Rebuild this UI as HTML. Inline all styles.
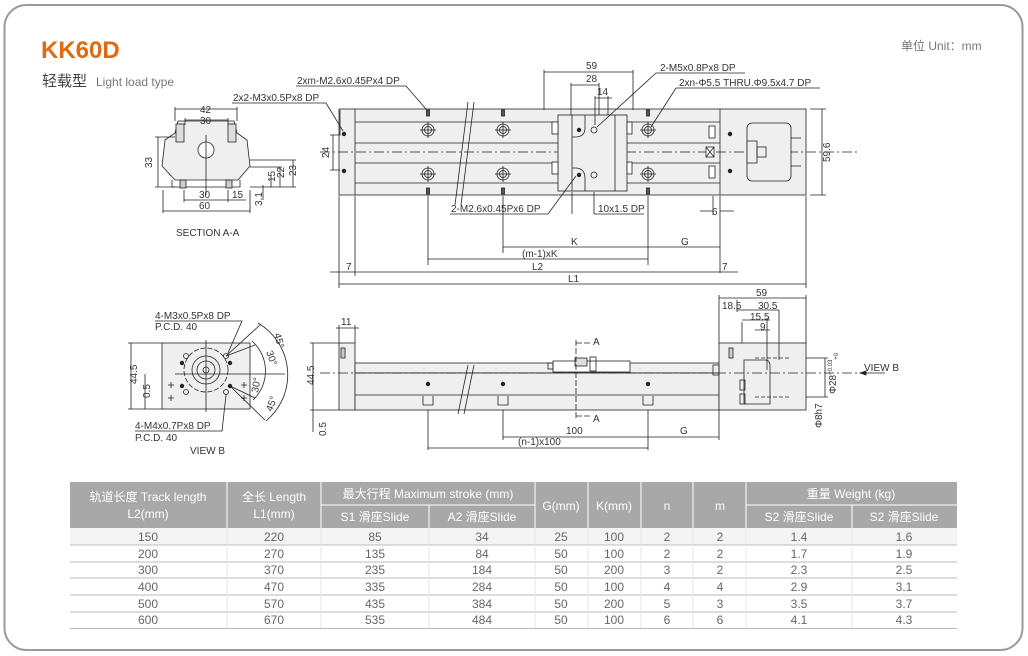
<!DOCTYPE html>
<html><head><meta charset="utf-8"><style>
html,body{margin:0;padding:0;background:#fff;}
svg{display:block;}
text{font-family:"Liberation Sans Narrow","Liberation Sans","Noto Sans CJK SC",sans-serif;}
</style></head><body>
<svg width="1028" height="656" viewBox="0 0 1028 656" xmlns="http://www.w3.org/2000/svg">
<rect x="4.5" y="5" width="1018" height="645" rx="22" fill="#fff" stroke="#9a9a9a" stroke-width="2"/>
<text x="41" y="58" font-family="Liberation Sans" font-weight="bold" font-size="24" fill="#e06a10">KK60D</text>
<text x="42" y="86" font-size="15" fill="#444" font-family="Liberation Sans,Noto Sans CJK SC,sans-serif">轻载型</text>
<text x="96" y="86" font-size="12" fill="#777" font-family="Liberation Sans">Light load type</text>
<text x="901" y="50" font-size="12" fill="#777" font-family="Liberation Sans,Noto Sans CJK SC,sans-serif">单位 Unit：mm</text>

<g stroke="#222" stroke-width="0.8" fill="none" font-size="10">
<rect x="339" y="109" width="467" height="86" fill="#efefef"/>
<line x1="355" y1="109" x2="355" y2="195"/>
<line x1="720" y1="109" x2="720" y2="195"/>
<line x1="355" y1="122" x2="720" y2="122"/>
<line x1="355" y1="143" x2="720" y2="143"/>
<line x1="355" y1="163" x2="720" y2="163"/>
<line x1="355" y1="183" x2="720" y2="183"/>
<line x1="320" y1="152" x2="860" y2="152" stroke-dasharray="10,3,2,3"/>
<rect x="558" y="115" width="69" height="76" fill="#efefef"/>
<rect x="552" y="122" width="6" height="12" fill="#fff"/>
<rect x="552" y="162" width="6" height="12" fill="#fff"/>
<rect x="627" y="122" width="5" height="12" fill="#fff"/>
<rect x="627" y="162" width="5" height="12" fill="#fff"/>
<line x1="572" y1="115" x2="572" y2="191"/>
<line x1="615" y1="115" x2="615" y2="191"/>
<path d="M585 115 V128 Q585 137 575 137 H572"/>
<path d="M585 191 V178 Q585 168 575 168 H572"/>
<circle cx="594" cy="130" r="3"/><circle cx="594" cy="175" r="3"/>
<circle cx="579" cy="130" r="1.8" fill="#222"/><circle cx="579" cy="175" r="1.8" fill="#222"/>
<g>
<circle cx="428" cy="130" r="6"/><circle cx="428" cy="130" r="3.5"/><line x1="420" y1="130" x2="436" y2="130"/><line x1="428" y1="122" x2="428" y2="138"/>
<circle cx="503" cy="130" r="6"/><circle cx="503" cy="130" r="3.5"/><line x1="495" y1="130" x2="511" y2="130"/><line x1="503" y1="122" x2="503" y2="138"/>
<circle cx="648" cy="130" r="6"/><circle cx="648" cy="130" r="3.5"/><line x1="640" y1="130" x2="656" y2="130"/><line x1="648" y1="122" x2="648" y2="138"/>
<circle cx="428" cy="174" r="6"/><circle cx="428" cy="174" r="3.5"/><line x1="420" y1="174" x2="436" y2="174"/><line x1="428" y1="166" x2="428" y2="182"/>
<circle cx="503" cy="174" r="6"/><circle cx="503" cy="174" r="3.5"/><line x1="495" y1="174" x2="511" y2="174"/><line x1="503" y1="166" x2="503" y2="182"/>
<circle cx="648" cy="174" r="6"/><circle cx="648" cy="174" r="3.5"/><line x1="640" y1="174" x2="656" y2="174"/><line x1="648" y1="166" x2="648" y2="182"/>
</g>
<rect x="426.5" y="110" width="3" height="6" fill="#555"/><rect x="501.5" y="110" width="3" height="6" fill="#555"/><rect x="646.5" y="110" width="3" height="6" fill="#555"/>
<rect x="426.5" y="188" width="3" height="6" fill="#555"/><rect x="501.5" y="188" width="3" height="6" fill="#555"/><rect x="646.5" y="188" width="3" height="6" fill="#555"/>
<circle cx="344" cy="134" r="1.8" fill="#222"/><circle cx="344" cy="171" r="1.8" fill="#222"/>
<circle cx="730" cy="134" r="1.8" fill="#222"/><circle cx="730" cy="171" r="1.8" fill="#222"/>
<rect x="709" y="126" width="6" height="12" fill="#fff"/><rect x="709" y="166" width="6" height="12" fill="#fff"/>
<rect x="706" y="147" width="8" height="10" fill="#fff"/><path d="M706 147 L714 157 M714 147 L706 157"/>
<rect x="747" y="123" width="44" height="58" rx="5" fill="#efefef"/>
<rect x="747" y="141" width="10" height="22" fill="#efefef"/><rect x="757" y="147" width="9" height="10"/>
<line x1="791" y1="138" x2="801" y2="138"/><line x1="791" y1="166" x2="801" y2="166"/>
<path d="M468 102 L455 205 M474 102 L461 205"/>
<path d="M544 110 V70 M633 110 V70 M544 72 H633"/>
<path d="M571 115 V83 M599 115 V83 M571 85 H599"/>
<path d="M595 125 V96 M608 115 V96 M595 98 H612"/>
<path d="M340 110 V135 L330 135 M340 170 L330 170 M333 135 V170"/>
<path d="M810 109 H826 M810 195 H826 M822 109 V195"/>
<path d="M296 86 H406 L426 109"/>
<path d="M232 103 H326 L343 131"/>
<path d="M656 73 H745 M656 73 L597 127"/>
<path d="M676 88 H820 M676 88 L651 127"/>
<path d="M450 214 H548 L576 176"/>
<path d="M594 214 H644"/>
<path d="M428 196 V265 M503 196 V253 M648 196 V265 M720 196 V273 M806 196 V288 M339 196 V288 M355 196 V276 M572 192 V214 M594 192 V214 M713 196 V215"/>
<path d="M503 247 H648 M648 247 H720 M428 259 H648 M355 272 H720 M339 284 H806"/>
<path d="M330 272 H339 M339 272 H355 M720 272 H738 M700 211 H713 M720 211 H734"/>
</g>
<g font-size="10" fill="#333">
<text x="586" y="69">59</text><text x="586" y="82">28</text><text x="597" y="95">14</text>
<text x="297" y="84">2xm-M2.6x0.45Px4 DP</text>
<text x="233" y="101">2x2-M3x0.5Px8 DP</text>
<text x="660" y="71">2-M5x0.8Px8 DP</text>
<text x="679" y="86">2xn-Φ5.5 THRU.Φ9.5x4.7 DP</text>
<text x="451" y="212">2-M2.6x0.45Px6 DP</text>
<text x="598" y="212">10x1.5 DP</text>
<text x="712" y="215">6</text>
<text x="571" y="245">K</text><text x="681" y="245">G</text>
<text x="522" y="257">(m-1)xK</text><text x="532" y="270">L2</text>
<text x="346" y="270">7</text><text x="722" y="270">7</text><text x="568" y="282">L1</text>
<text transform="translate(329,158) rotate(-90)">24</text>
<text transform="translate(830,162) rotate(-90)">59.6</text>
</g>

<g stroke="#222" stroke-width="0.8" fill="none">
<path d="M165 140 L175 133 L178 121 L234 121 L237 133 L247 140 L250 166 L238 180 H175 L162 166 Z" fill="#efefef"/>
<path d="M172 180 V187 H240 V180"/>
<rect x="176" y="124" width="8" height="18" fill="#ddd"/><rect x="228" y="124" width="8" height="18" fill="#ddd"/>
<circle cx="206" cy="150" r="8" fill="#fff"/>
<line x1="206" y1="135" x2="206" y2="195"/>
<rect x="180" y="180" width="6" height="8" fill="#ccc"/><rect x="226" y="180" width="6" height="8" fill="#ccc"/>
<path d="M175 121 V107 M237 121 V107 M175 109 H237"/>
<path d="M185 125 V118 M228 125 V118 M185 120 H228"/>
<path d="M155 137 H175 M155 187 H175 M158 137 V187"/>
<path d="M184 190 V202 M228 190 V202 M184 200 H228 M228 200 H246"/>
<path d="M163 190 V213 M250 190 V213 M163 211 H250"/>
<path d="M250 160 H296 M250 187 H296 M250 167 H282 M293 160 V187 M280 167 V187 M271 175 V187 M263 185 V200"/>
</g>
<g font-size="10" fill="#333">
<text x="200" y="113">42</text><text x="200" y="124">30</text>
<text transform="translate(152,168) rotate(-90)">33</text>
<text x="199" y="198">30</text><text x="232" y="198">15</text><text x="199" y="209">60</text>
<text transform="translate(262,206) rotate(-90)">3.1</text>
<text transform="translate(275,182) rotate(-90)">15</text>
<text transform="translate(284,178) rotate(-90)">22</text>
<text transform="translate(296,176) rotate(-90)">23</text>
<text x="176" y="236">SECTION A-A</text>
</g>

<g stroke="#222" stroke-width="0.8" fill="none">
<rect x="162" y="343" width="88" height="66" fill="#efefef"/>
<circle cx="206" cy="370" r="22" stroke-dasharray="5,2"/>
<circle cx="206" cy="370" r="14"/><circle cx="206" cy="370" r="9"/><circle cx="206" cy="370" r="3"/>
<line x1="175" y1="374" x2="285" y2="374"/><line x1="206" y1="340" x2="206" y2="412"/>
<circle cx="186" cy="356" r="2.5"/><circle cx="226" cy="356" r="2.5"/><circle cx="186" cy="392" r="2.5"/><circle cx="226" cy="392" r="2.5"/>
<circle cx="182" cy="363" r="1.8" fill="#222"/><circle cx="230" cy="363" r="1.8" fill="#222"/><circle cx="182" cy="386" r="1.8" fill="#222"/><circle cx="230" cy="386" r="1.8" fill="#222"/>
<path d="M168 385 h6 M171 382 v6 M241 385 h6 M244 382 v6 M168 398 h6 M171 395 v6 M241 398 h6 M244 395 v6"/>
<path d="M226 356 L260 325 M230 386 L265 420"/>
<path d="M258 323 A60 60 0 0 1 266 421"/>
<path d="M226 356 L255 345 M230 386 L255 398"/>
<path d="M252 341 A40 40 0 0 1 253 400"/>
<path d="M155 321 H242 L228 353"/>
<path d="M135 431 H222 L226 395"/>
<path d="M128 343 H162 M128 409 H162 M131 343 V409 M145 374 V409"/>
</g>
<g font-size="10" fill="#333">
<text x="155" y="319">4-M3x0.5Px8 DP</text><text x="155" y="330">P.C.D. 40</text>
<text x="135" y="429">4-M4x0.7Px8 DP</text><text x="135" y="441">P.C.D. 40</text>
<text x="190" y="454">VIEW B</text>
<text transform="translate(137,384) rotate(-90)">44.5</text>
<text transform="translate(150,398) rotate(-90)">0.5</text>
<text transform="translate(274,334) rotate(75)">45°</text>
<text transform="translate(266,352) rotate(70)">30°</text>
<text transform="translate(258,393) rotate(-80)">30°</text>
<text transform="translate(272,412) rotate(-70)">45°</text>
</g>

<g stroke="#222" stroke-width="0.8" fill="none">
<rect x="339" y="343" width="16" height="67" fill="#efefef"/>
<rect x="355" y="363" width="364" height="10" fill="#efefef"/>
<rect x="355" y="373" width="364" height="37" fill="#efefef"/>
<line x1="355" y1="395" x2="719" y2="395"/>
<rect x="719" y="343" width="87" height="67" fill="#efefef"/>
<rect x="553" y="361" width="77" height="11" fill="#fff"/>
<rect x="548" y="363" width="5" height="6"/>
<rect x="575" y="358" width="12" height="8" fill="#ddd"/><rect x="590" y="357" width="6" height="14"/>
<path d="M744 360 H765 Q770 360 770 366 V404 H744 Z"/>
<path d="M755 358 H790 M755 397 H790" stroke-dasharray="4,2"/>
<rect x="740" y="380" width="5" height="10"/><rect x="740" y="394" width="5" height="10"/>
<rect x="713" y="365" width="6" height="10"/>
<rect x="341" y="348" width="4" height="10" fill="#ccc"/><rect x="729" y="348" width="4" height="10" fill="#ccc"/>
<path d="M320 373 H860" stroke-dasharray="10,3,2,3"/>
<path d="M423 396 V405 H433 V396 M498 396 V405 H508 V396 M643 396 V405 H653 V396"/>
<circle cx="428" cy="384" r="1.8" fill="#222"/><circle cx="503" cy="384" r="1.8" fill="#222"/><circle cx="648" cy="384" r="1.8" fill="#222"/>
<path d="M468 365 L458 414 M474 365 L464 414"/>
<path d="M576 340 V420 M576 343 H592 M576 416 H592" stroke-dasharray="6,2"/>
<path d="M339 343 V325 M355 343 V325 M336 328 H359"/>
<path d="M310 343 H339 M313 343 V410 M310 410 H339 M313 410 V432"/>
<path d="M719 343 V295 M806 343 V295 M719 298 H806 M737 312 V300 M737 310 H779 M742 322 V343 M742 320 H770 M755 330 H770 M767 318 V370 M779 310 V360"/>
<path d="M428 410 V450 M503 410 V440 M648 410 V450 M719 410 V440 M503 437 H648 M648 437 H719 M428 448 H648"/>
<path d="M806 358 H828 M806 397 H828 M825 358 V397"/>
<path d="M885 373 H860"/>
<path d="M860 373 l6 -2 v4 z" fill="#222"/>
</g>
<g font-size="10" fill="#333">
<text x="341" y="325">11</text>
<text transform="translate(314,385) rotate(-90)">44.5</text>
<text transform="translate(326,436) rotate(-90)">0.5</text>
<text x="593" y="345">A</text><text x="593" y="422">A</text>
<text x="756" y="296">59</text><text x="722" y="309">18.5</text><text x="758" y="309">30.5</text>
<text x="750" y="320">15.5</text><text x="760" y="330">9</text>
<text x="864" y="371">VIEW B</text>
<text transform="translate(836,394) rotate(-90)">Φ28<tspan font-size="6" dy="-4">+0.03</tspan><tspan font-size="6" dy="6">+0</tspan></text>
<text transform="translate(822,428) rotate(-90)">Φ8h7</text>
<text x="566" y="434">100</text><text x="680" y="434">G</text><text x="518" y="445">(n-1)x100</text>
</g>

<g font-size="12">
<rect x="70" y="482" width="887" height="46" fill="#a8a8a8"/>
<g stroke="#fff" stroke-width="1">
<line x1="227" y1="482" x2="227" y2="528"/><line x1="321" y1="482" x2="321" y2="528"/>
<line x1="535" y1="482" x2="535" y2="528"/><line x1="588" y1="482" x2="588" y2="528"/>
<line x1="641" y1="482" x2="641" y2="528"/><line x1="693" y1="482" x2="693" y2="528"/>
<line x1="746" y1="482" x2="746" y2="528"/>
<line x1="429" y1="505" x2="429" y2="528"/><line x1="852" y1="505" x2="852" y2="528"/>
<line x1="321" y1="505" x2="535" y2="505"/><line x1="746" y1="505" x2="957" y2="505"/>
</g>
<g fill="#fff" text-anchor="middle">
<text x="148" y="501">轨道长度 Track length</text><text x="148" y="518">L2(mm)</text>
<text x="274" y="501">全长 Length</text><text x="274" y="518">L1(mm)</text>
<text x="428" y="498">最大行程 Maximum stroke (mm)</text>
<text x="375" y="521">S1 滑座Slide</text><text x="482" y="521">A2 滑座Slide</text>
<text x="561" y="510">G(mm)</text><text x="614" y="510">K(mm)</text>
<text x="667" y="510">n</text><text x="720" y="510">m</text>
<text x="851" y="498">重量 Weight (kg)</text>
<text x="799" y="521">S2 滑座Slide</text><text x="904" y="521">S2 滑座Slide</text>
</g>
<rect x="70" y="528" width="887" height="17" fill="#f4f4f4"/>
<g stroke="#bbb" stroke-width="1">
<line x1="70" y1="545" x2="957" y2="545"/><line x1="70" y1="562" x2="957" y2="562"/>
<line x1="70" y1="578" x2="957" y2="578"/><line x1="70" y1="595" x2="957" y2="595"/>
<line x1="70" y1="612" x2="957" y2="612"/><line x1="70" y1="628.5" x2="957" y2="628.5"/>
</g>
<g stroke="#e6e6e6" stroke-width="1">
<line x1="227" y1="528" x2="227" y2="628"/><line x1="321" y1="528" x2="321" y2="628"/>
<line x1="429" y1="528" x2="429" y2="628"/><line x1="535" y1="528" x2="535" y2="628"/>
<line x1="588" y1="528" x2="588" y2="628"/><line x1="641" y1="528" x2="641" y2="628"/>
<line x1="693" y1="528" x2="693" y2="628"/><line x1="746" y1="528" x2="746" y2="628"/>
<line x1="852" y1="528" x2="852" y2="628"/>
</g>
<g fill="#666" text-anchor="middle">
<text x="148" y="541">150</text><text x="274" y="541">220</text><text x="375" y="541">85</text><text x="482" y="541">34</text><text x="561" y="541">25</text><text x="614" y="541">100</text><text x="667" y="541">2</text><text x="720" y="541">2</text><text x="799" y="541">1.4</text><text x="904" y="541">1.6</text>
<text x="148" y="558">200</text><text x="274" y="558">270</text><text x="375" y="558">135</text><text x="482" y="558">84</text><text x="561" y="558">50</text><text x="614" y="558">100</text><text x="667" y="558">2</text><text x="720" y="558">2</text><text x="799" y="558">1.7</text><text x="904" y="558">1.9</text>
<text x="148" y="574">300</text><text x="274" y="574">370</text><text x="375" y="574">235</text><text x="482" y="574">184</text><text x="561" y="574">50</text><text x="614" y="574">200</text><text x="667" y="574">3</text><text x="720" y="574">2</text><text x="799" y="574">2.3</text><text x="904" y="574">2.5</text>
<text x="148" y="591">400</text><text x="274" y="591">470</text><text x="375" y="591">335</text><text x="482" y="591">284</text><text x="561" y="591">50</text><text x="614" y="591">100</text><text x="667" y="591">4</text><text x="720" y="591">4</text><text x="799" y="591">2.9</text><text x="904" y="591">3.1</text>
<text x="148" y="608">500</text><text x="274" y="608">570</text><text x="375" y="608">435</text><text x="482" y="608">384</text><text x="561" y="608">50</text><text x="614" y="608">200</text><text x="667" y="608">5</text><text x="720" y="608">3</text><text x="799" y="608">3.5</text><text x="904" y="608">3.7</text>
<text x="148" y="624">600</text><text x="274" y="624">670</text><text x="375" y="624">535</text><text x="482" y="624">484</text><text x="561" y="624">50</text><text x="614" y="624">100</text><text x="667" y="624">6</text><text x="720" y="624">6</text><text x="799" y="624">4.1</text><text x="904" y="624">4.3</text>
</g>
</g>
</svg>
</body></html>
